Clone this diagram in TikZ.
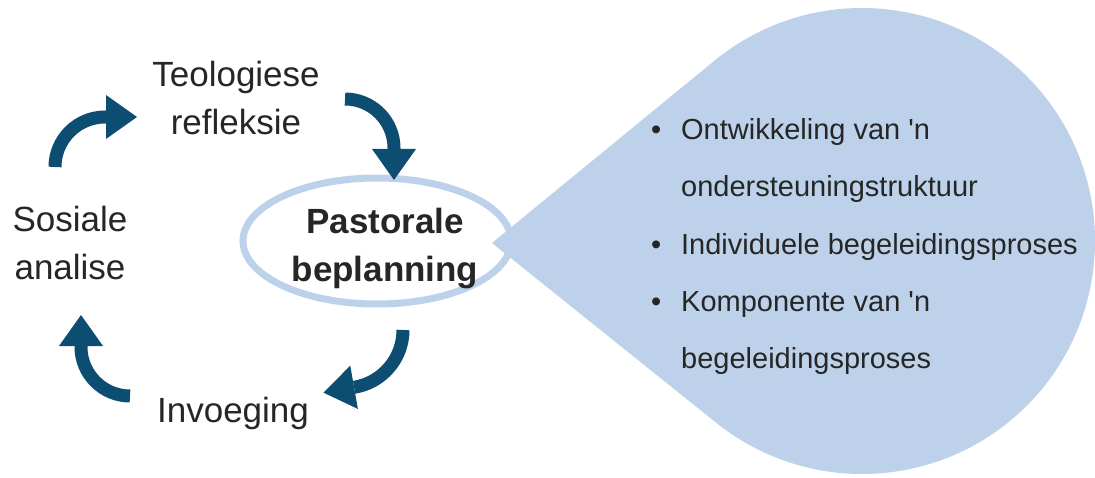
\documentclass[tikz,border=0pt]{standalone}
\usepackage{fontspec}
\setmainfont{Liberation Sans}
\usetikzlibrary{arrows.meta, calc, shapes.geometric}
\definecolor{cycleblue}{RGB}{14,77,114}
\definecolor{dropblue}{RGB}{189,210,234}
\definecolor{inkgray}{RGB}{38,38,38}

\begin{document}
\begin{tikzpicture}[
  x=1pt, y=1pt,
  stage/.style={align=center, anchor=base, text=inkgray, inner sep=0pt, font=\fontsize{35}{48}\selectfont},
  core/.style={stage, font=\fontsize{35}{48}\selectfont\bfseries},
  ring/.style={ellipse, draw=dropblue, line width=7pt, minimum width=268pt, minimum height=126pt, inner sep=0pt},
  item/.style={align=left, anchor=base west, text=inkgray, inner sep=0pt, font=\fontsize{29}{57}\selectfont},
  turn/.style={draw=cycleblue, line width=13pt, -{Triangle[length=31pt, width=44pt, line width=0pt]}}
]
\useasboundingbox (0,0) rectangle (1095,477);

\node[ring] (plan) at (377,236) {};

\coordinate (tip) at (492,234);
\coordinate (dropc) at (862,236);
\fill[dropblue] (tip) -- ($(dropc)+(129:233)$) arc[start angle=129, end angle=-129, radius=233pt] -- cycle;

\node[core] (plantext) at (385,195) {Pastorale\\beplanning};
\node[stage] (theo) at (236,342) {Teologiese\\refleksie};
\node[stage] (social) at (70,197) {Sosiale\\analise};
\node[stage] (insert) at (233,55) {Invoeging};

\node[item] (itemone) at (681,280) {\llap{\textbullet\hspace{20pt}}Ontwikkeling van \textquotesingle n\\ondersteuningstruktuur};
\node[item] (itemtwo) at (681,222) {\llap{\textbullet\hspace{20pt}}Individuele begeleidingsproses};
\node[item] (itemthree) at (681,109) {\llap{\textbullet\hspace{20pt}}Komponente van \textquotesingle n\\begeleidingsproses};

\coordinate (fromsocial) at (55,310);
\coordinate (fromtheo) at (345,378);
\coordinate (fromplan) at (403,147);
\coordinate (frominsert) at (130,81);

\draw[turn] (fromsocial) arc[start angle=180, end angle=90, radius=50pt] -- ++(32,0);
\draw[turn] (fromtheo) arc[start angle=90, end angle=0, radius=49pt] -- ++(0,-32);
\draw[turn] (fromplan) arc[start angle=0, end angle=-80, radius=58pt] -- ++(190:32);
\draw[turn] (frominsert) arc[start angle=270, end angle=180, radius=49pt] -- ++(0,32);
\end{tikzpicture}
\end{document}
